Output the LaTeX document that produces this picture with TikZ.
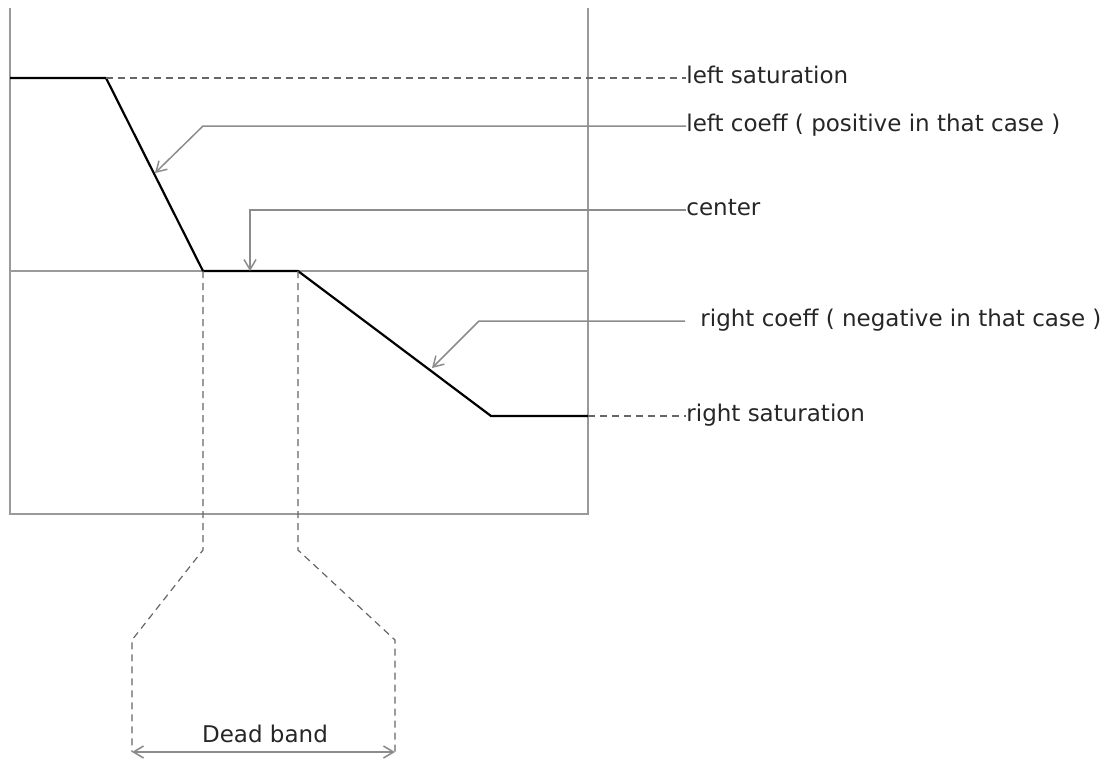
\documentclass[tikz,border=0pt]{standalone}
\usepackage{fontspec}
\setmainfont{DejaVu Sans}
\usetikzlibrary{arrows.meta}
\definecolor{boxgray}{HTML}{9A9A9A}
\definecolor{annogray}{HTML}{8C8C8C}
\definecolor{dashgray}{HTML}{666666}
\begin{document}
\begin{tikzpicture}[x=0.5pt,y=-0.5pt,
  frame/.style={draw=boxgray,line width=0.8pt},
  curve/.style={draw=black,line width=1.1pt,line join=round},
  anno/.style={draw=annogray,line width=0.75pt,-{Straight Barb[length=5pt,width=6pt]}},
  guide/.style={draw=dashgray,line width=0.6pt,dash pattern=on 3.5pt off 2.5pt},
  lbl/.style={anchor=mid west,inner sep=0pt,font=\fontsize{11.5pt}{13pt}\selectfont,text=black!85}]
\useasboundingbox (0,0) rectangle (1112,760);
% frame
\coordinate (tl) at (10,8);
\coordinate (tr) at (588,8);
\coordinate (bl) at (10,514);
\coordinate (br) at (588,514);
\coordinate (ml) at (10,271);
\coordinate (mr) at (588,271);
\draw[frame] (tl) -- (bl) -- (br) -- (tr);
\draw[frame] (ml) -- (mr);
% curve points
\coordinate (p0) at (10,78);
\coordinate (p1) at (106,78);
\coordinate (p2) at (203,271);
\coordinate (p3) at (298,271);
\coordinate (p4) at (491,416);
\coordinate (p5) at (588,416);
\draw[curve] (p0) -- (p1) -- (p2) -- (p3) -- (p4) -- (p5);
% labels
\node[lbl] (ls) at (686,78) {left saturation};
\node[lbl] (lc) at (686,126) {left coeff ( positive in that case )};
\node[lbl] (ce) at (686,210) {center};
\node[lbl] (rc) at (700,321) {right coeff ( negative in that case )};
\node[lbl] (rs) at (686,416) {right saturation};
% guides
\draw[guide] (p1) -- (ls.mid west);
\draw[guide] (p5) -- (rs.mid west);
% annotation arrows
\coordinate (lcc) at (203,126);
\coordinate (lct) at (155,173);
\draw[anno] (lc.mid west) -- (lcc) -- (lct);
\coordinate (cec) at (250,210);
\coordinate (cet) at (250,271);
\draw[anno] (ce.mid west) -- (cec) -- (cet);
\coordinate (rce) at (685,321);
\coordinate (rcc) at (479,321);
\coordinate (rct) at (432,368);
\draw[anno] (rce) -- (rcc) -- (rct);
% dead band
\coordinate (d1) at (203,550);
\coordinate (d2) at (132,640);
\coordinate (d3) at (132,752);
\coordinate (e1) at (298,550);
\coordinate (e2) at (395,640);
\coordinate (e3) at (395,752);
\draw[guide] (p2) -- (d1) -- (d2) -- (d3);
\draw[guide] (p3) -- (e1) -- (e2) -- (e3);
\draw[draw=annogray,line width=0.8pt,{Straight Barb[length=5pt,width=6pt]}-{Straight Barb[length=5pt,width=6pt]}] (d3) -- (e3);
\node[anchor=mid,inner sep=0pt,font=\fontsize{11.5pt}{13pt}\selectfont,text=black!85] (db) at (265,737) {Dead band};
\end{tikzpicture}
\end{document}
